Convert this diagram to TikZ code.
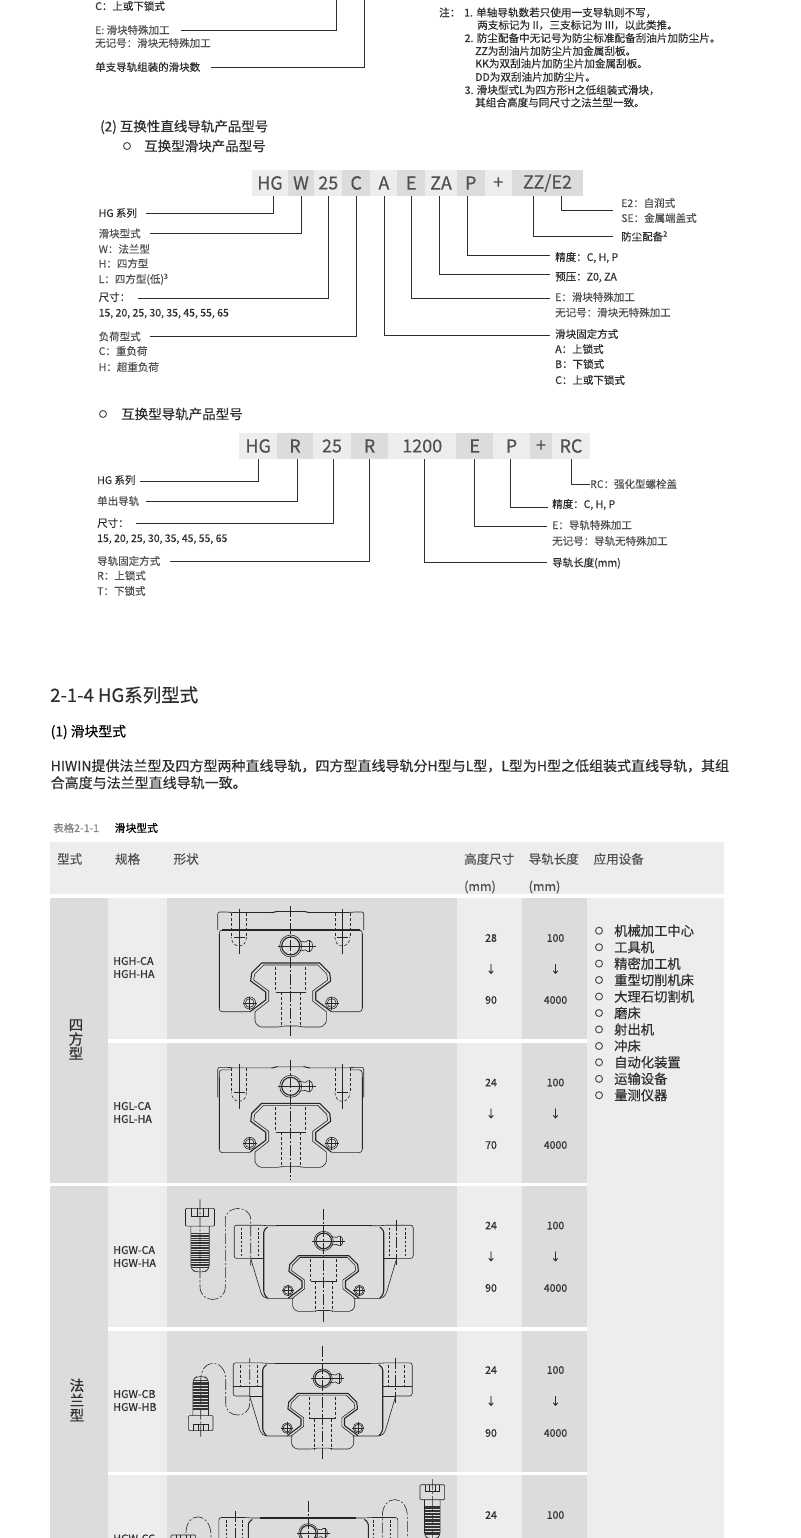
\documentclass[tikz,border=0pt]{standalone}
\usepackage{fontspec}
\setmainfont{Noto Sans CJK SC}[RawFeature={embolden=0.35}]
\definecolor{cellD}{HTML}{DCDCDC}
\definecolor{cellL}{HTML}{EDEDED}
\definecolor{inkA}{HTML}{2E2E2E}
\definecolor{inkB}{HTML}{505050}
\newcommand{\fsz}[2]{\fontsize{#1}{#2}\selectfont}
\tikzset{
 lb/.style={anchor=west,inner sep=0pt,text height=9.2pt,text depth=1.2pt,text=inkA,font=\fsz{10.5}{12}},
 lbg/.style={lb,text=inkB},
 note/.style={lb,font=\fsz{10.6}{12}},
 tile/.style={inner sep=0pt,minimum height=26.4pt,text=inkB,font=\fsz{18}{20}},
 conn/.style={draw=inkA,line width=.8pt},
 ring/.style={circle,draw=inkB,line width=1pt,inner sep=0pt,minimum size=7pt},
 head/.style={anchor=west,inner sep=0pt,text=inkB,font=\fsz{12.5}{14}},
 cellnum/.style={inner sep=0pt,text=inkA,font=\fsz{10.5}{12}},
 spec/.style={anchor=west,inner sep=0pt,align=left,text=inkA,font=\fsz{10.8}{13}},
 appl/.style={anchor=west,inner sep=0pt,text=inkA,font=\fsz{13.3}{15}},
 ln/.style={draw=black!85,line width=.6pt},
 thk/.style={draw=black!85,line width=1.1pt},
 dsh/.style={draw=black!85,line width=.6pt,dash pattern=on 3pt off 2pt},
 dshk/.style={draw=black!85,line width=1.1pt,dash pattern=on 2.5pt off 1.8pt},
 axis/.style={draw=black!85,line width=.6pt,dash pattern=on 11pt off 2pt on 2pt off 2pt},
 railcore/.pic={
  \foreach \s in {-1,1}{
   \begin{scope}[xscale=\s]
    \draw[thk,line join=round] (0,0) -- (29,0) -- (39,10) -- (40,18) -- (25,29) -- (25,37) -- (40.7,48.7);
    \draw[ln,line join=round] (0,2) -- (27,2) -- (36,11) -- (37,17) -- (22,28) -- (22,38) -- (35.7,48.7);
    \draw[ln,rounded corners=1.5pt] (35.7,48.7) -- (35.7,59.5) -- (31,64) -- (12,64) -- (8,63) -- (0,63);
    \draw[ln] (41,40) circle (6);
    \draw[ln] (41,40) circle (4.4);
    \draw[ln] (34,40) -- (48,40) (41,33.5) -- (41,46.5);
    \draw[dsh] (15,4) -- (15,29);
    \draw[ln] (0,29) -- (15,29);
    \draw[dsh] (9.5,29) -- (9.5,64);
   \end{scope}
  }
  \draw[ln,fill=cellD] (0,-17) circle (11);
  \draw[thk] (0,-17) circle (9);
  \draw[ln] (8,-22) -- (15,-21) .. controls (17,-24) and (22,-23) .. (22,-17) .. controls (22,-11) and (17,-10) .. (15,-13) -- (8,-12);
  \draw[ln] (-13,-17) -- (25,-17) (19,-23) -- (19,-11);
 },
 screwset/.pic={
  \foreach \s in {-1,1}{
   \begin{scope}[xscale=\s]
    \draw[ln] (51.7,-3) -- (51.7,42);
    \draw[dsh] (44.2,1) -- (44.2,25) (59.2,1) -- (59.2,25);
    \draw[dsh] (44.2,25) .. controls (44.2,37) and (59.2,37) .. (59.2,25);
    \draw[ln] (46,25) -- (57,25);
   \end{scope}
  }
 },
 hghblock/.pic={
  \foreach \s in {-1,1}{
   \begin{scope}[xscale=\s]
    \draw[ln,rounded corners=2pt] (0,-.5) -- (15,-.5) -- (17,.5) -- (60,.5) -- (62,0) -- (73,0) -- (73,18);
    \draw[thk] (0,18) -- (69,18);
    \draw[ln,rounded corners=3pt] (69,18) -- (71.5,18) -- (71.5,99.7) -- (40.7,99.7);
    \draw[thk] (71.5,22) -- (71.5,96);
   \end{scope}
  }
  \pic{screwset};
  \begin{scope}[shift={(0,51)}]\pic{railcore};\end{scope}
  \draw[axis] (0,-6) -- (0,126);
 },
 hglblock/.pic={
  \foreach \s in {-1,1}{
   \begin{scope}[xscale=\s]
    \draw[ln,rounded corners=2pt] (0,-.5) -- (15,-.5) -- (17,.5) -- (60,.5) -- (62,0) -- (73,0) -- (73,30);
    \draw[ln,rounded corners=3pt] (60,2.5) -- (71.5,2.5) -- (71.5,85.3) -- (40.7,85.3);
    \draw[thk] (71.5,10) -- (71.5,82);
   \end{scope}
  }
  \pic{screwset};
  \begin{scope}[shift={(0,36)}]\pic{railcore};\end{scope}
  \draw[axis] (0,-7) -- (0,113);
 },
 flangebody/.pic={
  \foreach \s in {-1,1}{
   \begin{scope}[xscale=\s]
    \draw[thk] (0,0) -- (48,0);
    \draw[ln,rounded corners=2.5pt] (46,0) -- (57,0) -- (62,-.5) -- (89.5,-.5) -- (89.5,32.7) -- (73,32.7);
    \draw[ln,rounded corners=3pt] (73,32.7) -- (62,69.5) -- (58,72.7) -- (30,72.7);
    \draw[thk,rounded corners=3pt] (56,1.5) -- (60,4) -- (60,68) -- (56,72.7);
    \draw[ln] (60,32.7) -- (73,32.7);
   \end{scope}
  }
  \begin{scope}[shift={(0,30)},scale=.87]\pic[transform shape]{railcore};\end{scope}
  \draw[axis] (0,-17) -- (0,96);
 },
 holedark/.pic={
  \foreach \s in {-1,1}{
   \begin{scope}[xscale=\s]
    \draw[dshk] (65.5,2) -- (65.5,32) (82,2) -- (82,32);
   \end{scope}
  }
 },
 holelight/.pic={
  \foreach \s in {-1,1}{
   \begin{scope}[xscale=\s]
    \draw[dsh] (65.5,2) -- (65.5,23) (82,2) -- (82,23);
    \draw[thk] (60,23) -- (89.5,23);
   \end{scope}
  }
 },
 capbolt/.pic={
  \draw[ln,rounded corners=1pt] (-14.5,0) rectangle (14.5,17.7);
  \draw[ln] (-8.5,0) -- (-8.5,8) -- (8.5,8) -- (8.5,0) (-3,0) -- (-3,8) (3,0) -- (3,8);
  \draw[ln,rounded corners=3pt] (-9.2,17.7) -- (-9.2,60) -- (-5,63.4) -- (5,63.4) -- (9.2,60) -- (9.2,17.7);
  \foreach \y in {25,26.7,...,60}{\draw[black!80,line width=.75pt] (-9,\y) -- (9,\y);}
 },
}
\begin{document}
\begin{tikzpicture}[x=1pt,y=-1pt]
\useasboundingbox (0,0) rectangle (800,1538);
\clip (0,0) rectangle (800,1538);
\fill[white] (0,0) rectangle (800,1538);

%% ---------- top fragment
\coordinate (upA) at (336,0);
\coordinate (upB) at (364,0);
\node[lb] (topC) at (95,6) {C：上或下锁式};
\node[lbg] (topE) at (95,30) {E: 滑块特殊加工};
\node[lbg] (topN) at (95,43) {无记号：滑块无特殊加工};
\node[lb] (topS) at (95,67) {单支导轨组装的滑块数};
\draw[conn] ([xshift=85.5pt,yshift=-.5pt]topE.west) -| (upA);
\draw[conn] ([xshift=116pt]topS.west) -| (upB);

%% ---------- notes
\node[note] (nZ) at (439,12.5) {注：};
\node[note] (n1) at (464,12.5) {1. 单轴导轨数若只使用一支导轨则不写，};
\node[note] (n1b) at (477,25) {两支标记为 II，三支标记为 III，以此类推。};
\node[note] (n2) at (464.5,38) {2. 防尘配备中无记号为防尘标准配备刮油片加防尘片。};
\node[note] (n2b) at (475,51) {ZZ为刮油片加防尘片加金属刮板。};
\node[note] (n2c) at (475,63.5) {KK为双刮油片加防尘片加金属刮板。};
\node[note] (n2d) at (475,77) {DD为双刮油片加防尘片。};
\node[note] (n3) at (464.5,90) {3. 滑块型式L为四方形H之低组装式滑块，};
\node[note] (n3b) at (475,102.5) {其组合高度与同尺寸之法兰型一致。};

%% ---------- (2)
\node[anchor=west,inner sep=0pt,text=inkA,font=\fsz{13.5}{15}] (sec2) at (100,127) {(2) 互换性直线导轨产品型号};
\node[ring] (b1) at (127,146) {};
\node[anchor=west,inner sep=0pt,text=inkA,font=\fsz{13.5}{15}] (sec2a) at (144,146) {互换型滑块产品型号};

%% ---------- code tiles row 1
\node[tile,fill=cellL,minimum width=36pt] (tHG) at (270,183) {HG};
\node[tile,fill=cellD,minimum width=26.5pt] (tW) at (301,183) {W};
\node[tile,fill=cellL,minimum width=28.5pt] (t25) at (328.3,183) {25};
\node[tile,fill=cellD,minimum width=27.5pt] (tC) at (356.2,183) {C};
\node[tile,fill=cellL,minimum width=27.5pt] (tA) at (383.9,183) {A};
\node[tile,fill=cellD,minimum width=27.5pt] (tE) at (411.2,183) {E};
\node[tile,fill=cellL,minimum width=32pt] (tZA) at (441,183) {ZA};
\node[tile,fill=cellD,minimum width=27.6pt] (tP) at (470.8,183) {P};
\node[tile,fill=cellL,minimum width=27.4pt] (tPlus) at (498.3,183) {+};
\node[tile,fill=cellD,minimum width=71pt] (tZZ) at (547.5,183) {ZZ/E2};

%% left labels row 1
\node[lb] (a1) at (98.5,213) {HG 系列};
\node[lbg] (a2) at (98.5,233.5) {滑块型式};
\node[lbg] (a3) at (98.5,249) {W：法兰型};
\node[lbg] (a4) at (98.5,263.5) {H：四方型};
\node[lbg] (a5) at (98.5,279) {L：四方型(低)\textsuperscript{3}};
\node[lb] (a6) at (98.5,297) {尺寸：};
\node[lb] (a7) at (98.5,312.5) {15, 20, 25, 30, 35, 45, 55, 65};
\node[lbg] (a8) at (98.5,336.5) {负荷型式};
\node[lbg] (a9) at (98.5,351) {C：重负荷};
\node[lbg] (a10) at (98.5,367) {H：超重负荷};
\draw[conn] ([xshift=47.5pt]a1.west) -| ([xshift=3pt]tHG.south);
\draw[conn] ([xshift=51.5pt]a2.west) -| (tW.south);
\draw[conn] ([xshift=39pt,yshift=-1pt]a6.west) -| (t25.south);
\draw[conn] ([xshift=51.5pt]a8.west) -| (tC.south);

%% right labels row 1
\node[lbg] (c1) at (621,203) {E2：自润式};
\node[lbg] (c2) at (621,218) {SE：金属端盖式};
\node[lb] (c3) at (621,236.5) {防尘配备\textsuperscript{2}};
\node[lb] (d1) at (555,257) {精度：C, H, P};
\node[lb] (d2) at (555,276.5) {预压：Z0, ZA};
\node[lbg] (d3) at (555,297) {E：滑块特殊加工};
\node[lbg] (d4) at (555,312.5) {无记号：滑块无特殊加工};
\node[lb] (d5) at (555,334) {滑块固定方式};
\node[lb] (d6) at (555,349) {A：上锁式};
\node[lb] (d7) at (555,364) {B：下锁式};
\node[lb] (d8) at (555,380) {C：上或下锁式};
\draw[conn] ([xshift=-8pt,yshift=-7pt]c1.west) -| ([xshift=13.5pt]tZZ.south);
\draw[conn] ([xshift=-8pt]c3.west) -| ([xshift=-14.5pt]tZZ.south);
\draw[conn] ([xshift=-5pt,yshift=2pt]d1.west) -| ([xshift=-3pt]tP.south);
\draw[conn] ([xshift=-5pt,yshift=2.2pt]d2.west) -| ([xshift=-1.5pt]tZA.south);
\draw[conn] ([xshift=-5pt,yshift=-1.3pt]d3.west) -| (tE.south);
\draw[conn] ([xshift=-5pt,yshift=-1.3pt]d5.west) -| (tA.south);

%% ---------- rail section
\node[ring] (b2) at (103,414) {};
\node[anchor=west,inner sep=0pt,text=inkA,font=\fsz{13.5}{15}] (sec2b) at (121,414) {互换型导轨产品型号};

\node[tile,fill=cellL,minimum width=37.5pt] (uHG) at (258.2,446) {HG};
\node[tile,fill=cellD,minimum width=36pt] (uR) at (295,446) {R};
\node[tile,fill=cellL,minimum width=38pt] (u25) at (332,446) {25};
\node[tile,fill=cellD,minimum width=37pt] (uR2) at (369.5,446) {R};
\node[tile,fill=cellL,minimum width=68.4pt] (u1200) at (422.2,446) {1200};
\node[tile,fill=cellD,minimum width=36.6pt] (uE) at (474.7,446) {E};
\node[tile,fill=cellL,minimum width=37pt] (uP) at (511.5,446) {P};
\node[tile,fill=cellD,minimum width=22pt] (uPlus) at (541,446) {+};
\node[tile,fill=cellL,minimum width=38pt] (uRC) at (571,446) {RC};

\node[lb] (e1) at (97,480) {HG 系列};
\node[lbg] (e2) at (97,501) {单出导轨};
\node[lb] (e3) at (97,523) {尺寸：};
\node[lb] (e4) at (97,538) {15, 20, 25, 30, 35, 45, 55, 65};
\node[lbg] (e5) at (97,561) {导轨固定方式};
\node[lbg] (e6) at (97,575.5) {R：上锁式};
\node[lbg] (e7) at (97,591) {T：下锁式};
\draw[conn] ([xshift=43pt,yshift=-1pt]e1.west) -| (uHG.south);
\draw[conn] ([xshift=49pt]e2.west) -| ([xshift=2.5pt]uR.south);
\draw[conn] ([xshift=39pt]e3.west) -| ([xshift=1pt]u25.south);
\draw[conn] ([xshift=73pt]e5.west) -| (uR2.south);

\node[lbg] (f1) at (590,484) {RC：强化型螺栓盖};
\node[lb] (f2) at (552,504) {精度：C, H, P};
\node[lbg] (f3) at (552,525) {E：导轨特殊加工};
\node[lbg] (f4) at (552,541) {无记号：导轨无特殊加工};
\node[lb] (f5) at (552,562.5) {导轨长度(mm)};
\draw[conn] (f1.west) -| (uRC.south);
\draw[conn] ([xshift=-4pt,yshift=-3pt]f2.west) -| ([xshift=-1.5pt]uP.south);
\draw[conn] ([xshift=-5pt,yshift=-1.3pt]f3.west) -| (uE.south);
\draw[conn] ([xshift=-5pt]f5.west) -| ([xshift=2.4pt]u1200.south);

%% ---------- section heading
\node[anchor=west,inner sep=0pt,text=inkA,font=\fsz{18.5}{21}] (title) at (50,695) {2-1-4 HG系列型式};
\node[anchor=west,inner sep=0pt,text=black,font=\fsz{13.8}{16}] (sub1) at (50.5,732) {(1) 滑块型式};
\node[anchor=north west,inner sep=0pt,align=left,text=inkA,font=\fsz{14}{17}] (para) at (50.5,759) {HIWIN提供法兰型及四方型两种直线导轨，四方型直线导轨分H型与L型，L型为H型之低组装式直线导轨，其组\\合高度与法兰型直线导轨一致。};

%% ---------- table
\node[anchor=west,inner sep=0pt,text=black!50,font=\fsz{10.5}{12}] (cap1) at (53,828) {表格2-1-1};
\node[anchor=west,inner sep=0pt,text=black,font=\fsz{10.8}{12}] (cap2) at (114.5,828) {滑块型式};
\fill[cellL] (50,842) rectangle (724,894);
\fill[cellL] (586.5,898) rectangle (724,1545);
\fill[cellD] (50,898) rectangle (108,1182.7);
\fill[cellD] (50,1186.3) rectangle (108,1545);
\foreach \ya/\yb in {898/1039,1042.7/1182.7,1186.3/1326.7,1330.7/1471.7,1475/1545}{
 \fill[cellL] (108,\ya) rectangle (167,\yb);
 \fill[cellD] (167,\ya) rectangle (457,\yb);
 \fill[cellL] (457,\ya) rectangle (522,\yb);
 \fill[cellD] (522,\ya) rectangle (586.5,\yb);
}
\node[head] (h1) at (57,859) {型式};
\node[head] (h2) at (115,859) {规格};
\node[head] (h3) at (173.5,859) {形状};
\node[head] (h4) at (464,859) {高度尺寸};
\node[head] (h5) at (528.5,859) {导轨长度};
\node[head] (h6) at (593.5,859) {应用设备};
\node[head] (h7) at (464,887) {(mm)};
\node[head] (h8) at (528.5,887) {(mm)};

\node[inner sep=0pt,align=center,text=inkA,font=\fsz{14.5}{14.3}] (t1) at (76,1039.5) {四\\方\\型};
\node[inner sep=0pt,align=center,text=inkA,font=\fsz{14.5}{15}] (t2) at (77,1400) {法\\兰\\型};

\node[spec] (s1) at (113,967.5) {HGH-CA\\HGH-HA};
\node[spec] (s2) at (113,1112.5) {HGL-CA\\HGL-HA};
\node[spec] (s3) at (113,1256.5) {HGW-CA\\HGW-HA};
\node[spec] (s4) at (113,1400.5) {HGW-CB\\HGW-HB};
\node[anchor=west,inner sep=0pt,text=inkA,font=\fsz{10.8}{13}] (s5) at (113,1538.5) {HGW-CC};

%% numbers
\node[cellnum] (n11) at (491,938) {28};
\node[cellnum] (n12) at (491,969) {↓};
\node[cellnum] (n13) at (491,1000) {90};
\node[cellnum] (m11) at (555.5,938) {100};
\node[cellnum] (m12) at (555.5,969) {↓};
\node[cellnum] (m13) at (555.5,1000) {4000};
\node[cellnum] (n21) at (491,1082.5) {24};
\node[cellnum] (n22) at (491,1113.5) {↓};
\node[cellnum] (n23) at (491,1145) {70};
\node[cellnum] (m21) at (555.5,1082.5) {100};
\node[cellnum] (m22) at (555.5,1113.5) {↓};
\node[cellnum] (m23) at (555.5,1145) {4000};
\node[cellnum] (n31) at (491,1225.5) {24};
\node[cellnum] (n32) at (491,1256.5) {↓};
\node[cellnum] (n33) at (491,1288) {90};
\node[cellnum] (m31) at (555.5,1225.5) {100};
\node[cellnum] (m32) at (555.5,1256.5) {↓};
\node[cellnum] (m33) at (555.5,1288) {4000};
\node[cellnum] (n41) at (491,1370) {24};
\node[cellnum] (n42) at (491,1401) {↓};
\node[cellnum] (n43) at (491,1433) {90};
\node[cellnum] (m41) at (555.5,1370) {100};
\node[cellnum] (m42) at (555.5,1401) {↓};
\node[cellnum] (m43) at (555.5,1433) {4000};
\node[cellnum] (n51) at (491,1515) {24};
\node[cellnum] (m51) at (555.5,1515) {100};

%% applications
\foreach \nm/\yy/\txt in {
 p1/930.7/机械加工中心,p2/947.2/工具机,p3/963.6/精密加工机,p4/980/重型切削机床,
 p5/996.5/大理石切割机,p6/1013/磨床,p7/1029.4/射出机,p8/1046/冲床,
 p9/1062.3/自动化装置,p10/1078.8/运输设备,p11/1095.2/量测仪器}{
 \node[ring] (r\nm) at (599,\yy) {};
 \node[appl] (\nm) at (614,\yy) {\txt};
}

%% ---------- drawings
\pic at (290.7,912) {hghblock};
\pic at (290.7,1067.3) {hglblock};

% flange, bolt above
\begin{scope}[shift={(323.7,1225.7)}]
 \pic {flangebody};
 \pic {holedark};
 \draw[axis] (73,-6) -- (73,40);
 \draw[axis] (-123.7,-26.3) -- (-123.7,61) .. controls (-123.7,78) and (-98.4,78) .. (-98.4,61) -- (-98.4,-6) .. controls (-98.4,-21) and (-73,-21) .. (-73,-6) -- (-73,40);
 \pic at (-123.7,-17.3) {capbolt};
\end{scope}

% flange, bolt below
\begin{scope}[shift={(322.7,1363.3)}]
 \pic {flangebody};
 \pic {holelight};
 \draw[axis] (73,-5) -- (73,40);
 \draw[axis] (-122,73.3) -- (-122,16.7) .. controls (-122,-5.6) and (-97,-5.6) .. (-97,16.7) -- (-97,40) .. controls (-97,55.6) and (-73,55.6) .. (-73,40) -- (-73,-5);
 \begin{scope}[shift={(-122,67.3)},yscale=-1,scale=.85]\pic[transform shape] {capbolt};\end{scope}
\end{scope}

% flange, bolts both sides
\begin{scope}[shift={(308.3,1518)}]
 \pic {flangebody};
 \pic {holedark};
 \draw[axis] (124,-39) -- (124,61) .. controls (124,78) and (99,78) .. (99,61) -- (99,-1.7) .. controls (99,-24) and (74,-24) .. (74,-1.7) -- (74,40);
 \draw[axis] (-73,-7) -- (-73,40);
 \draw[axis] (-122.3,15) .. controls (-122.3,-7) and (-97.3,-7) .. (-97.3,18) -- (-97.3,40);
 \begin{scope}[shift={(124,-33.3)},scale=.85]\pic[transform shape] {capbolt};\end{scope}
 \begin{scope}[shift={(-125,17)},scale=.85]\pic[transform shape] {capbolt};\end{scope}
\end{scope}
\end{tikzpicture}
\end{document}
